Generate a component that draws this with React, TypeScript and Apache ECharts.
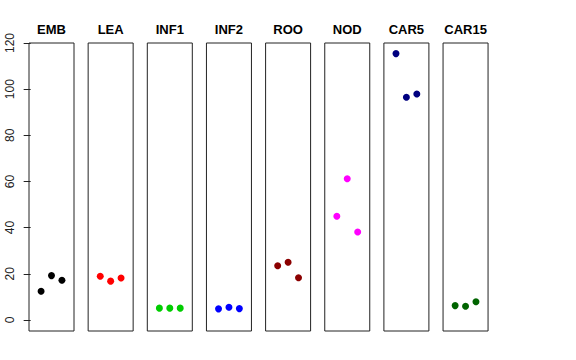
import React, { useEffect, useRef } from "react";
import * as echarts from "echarts";

const categories = ["EMB", "LEA", "INF1", "INF2", "ROO", "NOD", "CAR5", "CAR15"];
const colors = ["#000000", "#FF0000", "#00CD00", "#0000FF", "#8B0000", "#FF00FF", "#000080", "#006400"];
const replicates = [1, 2, 3];
const emb = [12.4, 19.2, 17.2];
const lea = [18.9, 16.8, 18.2];
const inf1 = [5.1, 5.1, 5.1];
const inf2 = [4.8, 5.5, 4.9];
const roo = [23.5, 25.0, 18.3];
const nod = [44.9, 61.2, 38.1];
const car5 = [115.4, 96.5, 97.9];
const car15 = [6.2, 5.9, 7.9];
const seriesValues = [emb, lea, inf1, inf2, roo, nod, car5, car15];
const yTicks = [0, 20, 40, 60, 80, 100, 120];

export default function App() {
  const ref = useRef<HTMLDivElement>(null);
  useEffect(() => {
    if (!ref.current) return;
    const chart = echarts.init(ref.current, undefined, { renderer: "svg" });
    const left0 = 29;
    const step = 59.15;
    const w = 45;
    const top = 43;
    const h = 288;
    const font = "'Liberation Sans', Arial, Helvetica, sans-serif";
    const grids = categories.map((_, i) => ({
      left: left0 + i * step,
      top,
      width: w,
      height: h,
      show: true,
      borderColor: "#222",
      borderWidth: 1,
      backgroundColor: "transparent",
      containLabel: false,
    }));
    const xAxes = categories.map((_, i) => ({
      type: "value",
      gridIndex: i,
      min: -0.16,
      max: 4.16,
      show: false,
    }));
    const yAxes = categories.map((_, i) => ({
      type: "value",
      gridIndex: i,
      min: -4.8,
      max: 120,
      show: i === 0,
      axisLine: { show: false },
      splitLine: { show: false },
      axisTick: {
        show: i === 0,
        customValues: yTicks,
        length: 7,
        lineStyle: { color: "#222" },
      },
      axisLabel: {
        show: i === 0,
        customValues: yTicks,
        rotate: 90,
        margin: 13,
        fontSize: 12,
        fontFamily: font,
        color: "#222",
      },
    }));
    const series = categories.map((c, i) => ({
      type: "scatter",
      name: c,
      xAxisIndex: i,
      yAxisIndex: i,
      symbol: "circle",
      symbolSize: 7,
      itemStyle: { color: colors[i], opacity: 1 },
      emphasis: { disabled: true },
      data: replicates.map((r, j) => [r, seriesValues[i][j]]),
    }));
    const graphic = categories.map((c, i) => ({
      type: "text",
      x: left0 + i * step + w / 2,
      y: 29,
      style: {
        text: c,
        textAlign: "center",
        textVerticalAlign: "middle",
        fontSize: 13,
        fontWeight: "bold",
        fontFamily: font,
        fill: "#000",
      },
    }));
    chart.setOption({
      animation: false,
      backgroundColor: "#fff",
      grid: grids,
      xAxis: xAxes,
      yAxis: yAxes,
      series,
      graphic,
    });
    return () => chart.dispose();
  }, []);
  return <div ref={ref} style={{ width: 576, height: 360, position: "absolute", left: 0, top: 0 }} />;
}
